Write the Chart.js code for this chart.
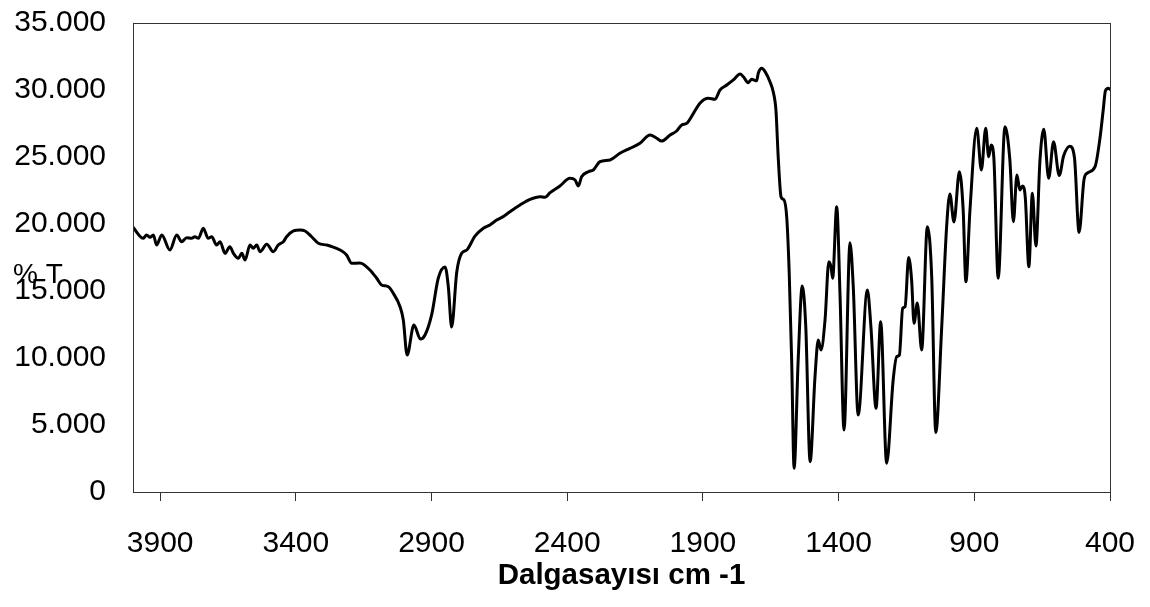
<!DOCTYPE html>
<html>
<head>
<meta charset="utf-8">
<title>IR spektrumu</title>
<script src="https://cdn.jsdelivr.net/npm/chart.js@4/dist/chart.umd.min.js"></script>
<style>
  html, body { margin: 0; padding: 0; background: #ffffff; }
  #wrap { width: 1150px; height: 607px; position: relative; }
</style>
</head>
<body>
<div id="wrap"><canvas id="spectrum"></canvas></div>
<script>
// Wavenumber (cm-1), high to low
const wavenumbers = [
  4000, 3962, 3950, 3937, 3925, 3913, 3894, 3864, 3839, 3821,
  3802, 3784, 3772, 3759, 3741, 3723, 3710, 3692, 3679, 3661,
  3643, 3630, 3612, 3599, 3587, 3569, 3557, 3544, 3532, 3507,
  3483, 3465, 3446, 3434, 3409, 3385, 3366, 3342, 3317, 3286,
  3274, 3237, 3213, 3194, 3164, 3127, 3102, 3084, 3059, 3041,
  3016, 3004, 2990, 2965, 2941, 2924, 2899, 2875, 2850, 2838,
  2826, 2807, 2789, 2770, 2740, 2709, 2685, 2660, 2636,
  2611, 2574, 2537, 2500, 2482, 2463, 2427, 2390, 2371, 2359,
  2347, 2322, 2304, 2279, 2242, 2206, 2169, 2132, 2095, 2070,
  2052, 2021, 1997, 1978, 1960, 1935, 1911, 1880, 1856, 1837,
  1812, 1788, 1763, 1751, 1733, 1720, 1702, 1696, 1683, 1671,
  1653, 1641, 1631, 1622, 1612, 1601, 1591, 1582, 1573, 1564,
  1549, 1534, 1521, 1505, 1487, 1475, 1465, 1450, 1436, 1428,
  1422, 1407, 1395, 1380, 1358, 1346, 1328, 1294, 1281, 1262,
  1245, 1223, 1199, 1186, 1176, 1164, 1155, 1142, 1131, 1122,
  1110, 1094, 1073, 1057, 1042, 1020, 1002, 990, 975, 955,
  941, 931, 916, 891, 874, 858, 847, 838, 828, 812,
  787, 769, 756, 743, 732, 722, 712, 699, 686, 673,
  658, 644, 626, 608, 587, 571, 548, 531, 514, 496,
  485, 455, 437, 425, 417, 406, 400
];

// % T for each wavenumber
const transmittance = [
  19750, 18930, 19180, 19010, 19180, 18430, 19180, 18060, 19180, 18680,
  18980, 18930, 19050, 18930, 19680, 18930, 19050, 18430, 18680, 17810,
  18310, 17810, 17440, 17810, 17310, 18430, 18190, 18430, 17930, 18490,
  17930, 18430, 18680, 19050, 19480, 19550, 19480, 19050, 18560, 18430,
  18360, 18060, 17690, 17070, 17090, 16570, 15950, 15450, 15320, 14830,
  13830, 12840, 10220, 12460, 11420, 11720, 13280, 15970, 16790, 15300,
  12310, 16420, 17810, 18060, 19100, 19680, 19930, 20300, 20550,
  20920, 21420, 21840, 22040, 21990, 22340, 22840, 23410, 23280, 22840,
  23530, 23900, 24030, 24650, 24780, 25280, 25650, 26020, 26640, 26400,
  26190, 26640, 26940, 27390, 27510, 28260, 29010, 29380, 29310, 30000,
  30370, 30750, 31190, 30990, 30550, 30800, 30690, 31250, 31620, 31370,
  30620, 29870, 28510, 24780, 22020, 21790, 20450, 16320, 9850, 1770,
  9850, 15370, 12340, 2260, 8600, 11340, 10600, 12840, 17190, 16810,
  15950, 21290, 14830, 4630, 18600, 15320, 5750, 15070, 12340, 6250,
  12710, 2140, 8360, 10100, 10220, 13710, 13830, 17500, 15820, 12590,
  14100, 10600, 19800, 16070, 4440, 12340, 19800, 22240, 20150, 23900,
  21040, 15690, 21040, 27140, 24030, 27140, 25020, 25900, 24930, 15950,
  27260, 24780, 20170, 23660, 22540, 22840, 21940, 16810, 22290, 18360,
  24780, 27070, 23410, 26140, 23620, 25070, 25800, 24960, 19370, 23280,
  23780, 24280, 26400, 28510, 29930, 30130, 30050
];

// Axis tick values
const xTickValues = [3900, 3400, 2900, 2400, 1900, 1400, 900, 400];
const yTickValues = [0, 5000, 10000, 15000, 20000, 25000, 30000, 35000];

const xTitle = 'Dalgasayısı cm -1';
const yTitle = '% T';

const FONT = "'Liberation Sans', Arial, Helvetica, sans-serif";
const W = 1150, H = 607;
const AREA = { left: 133, top: 23, right: 1110, bottom: 492 };

// Thousands separated with a dot: 35000 -> "35.000"
function dotted(v) {
  return String(Math.round(v)).replace(/\B(?=(\d{3})+(?!\d))/g, '.');
}

// Plot frame and the horizontal "% T" label
const framePlugin = {
  id: 'frame',
  afterDatasetsDraw(chart) {
    const { ctx, chartArea: a } = chart;
    ctx.save();
    ctx.strokeStyle = '#333333';
    ctx.lineWidth = 1;
    ctx.strokeRect(Math.round(a.left) + 0.5, Math.round(a.top) + 0.5,
                   Math.round(a.right - a.left), Math.round(a.bottom - a.top));
    ctx.restore();
  },
  afterDraw(chart) {
    const { ctx } = chart;
    ctx.save();
    ctx.fillStyle = '#000000';
    ctx.font = `28px ${FONT}`;
    ctx.textAlign = 'left';
    ctx.textBaseline = 'middle';
    ctx.fillText(yTitle, 13, 275);
    ctx.restore();
  }
};

const canvas = document.getElementById('spectrum');
canvas.width = W;
canvas.height = H;

new Chart(canvas, {
  type: 'line',
  data: {
    datasets: [{
      data: wavenumbers.map((w, i) => ({ x: w, y: transmittance[i] })),
      borderColor: '#000000',
      borderWidth: 3,
      pointRadius: 0,
      fill: false,
      cubicInterpolationMode: 'monotone',
      borderJoinStyle: 'round',
      borderCapStyle: 'round'
    }]
  },
  options: {
    responsive: false,
    animation: false,
    devicePixelRatio: 1,
    layout: { padding: { top: AREA.top, right: W - AREA.right, bottom: 0, left: 0 } },
    plugins: {
      legend: { display: false },
      tooltip: { enabled: false }
    },
    scales: {
      x: {
        type: 'linear',
        reverse: true,
        min: 400,
        max: 4000,
        afterBuildTicks(scale) { scale.ticks = xTickValues.map(v => ({ value: v })); },
        afterFit(scale) {
          scale.height = H - AREA.bottom;
          scale.paddingLeft = 0;
          scale.paddingRight = 0;
        },
        ticks: {
          autoSkip: false,
          maxRotation: 0,
          padding: 25,
          color: '#000000',
          font: { family: FONT, size: 30 },
          callback: v => String(v)
        },
        grid: {
          display: true,
          drawOnChartArea: false,
          drawTicks: true,
          tickLength: 9,
          color: '#333333',
          lineWidth: 1
        },
        border: { display: false },
        title: {
          display: true,
          text: xTitle,
          color: '#000000',
          font: { family: FONT, size: 29.5, weight: 'bold' },
          padding: { top: 4, bottom: 13 }
        }
      },
      y: {
        type: 'linear',
        min: 0,
        max: 35000,
        afterBuildTicks(scale) { scale.ticks = yTickValues.map(v => ({ value: v })); },
        afterFit(scale) {
          scale.width = AREA.left;
          scale.paddingTop = 0;
          scale.paddingBottom = 0;
        },
        ticks: {
          padding: 27,
          color: '#000000',
          font: { family: FONT, size: 30 },
          callback: v => dotted(v)
        },
        grid: { display: true, drawOnChartArea: false, drawTicks: false },
        border: { display: false }
      }
    }
  },
  plugins: [framePlugin]
});
</script>
</body>
</html>
